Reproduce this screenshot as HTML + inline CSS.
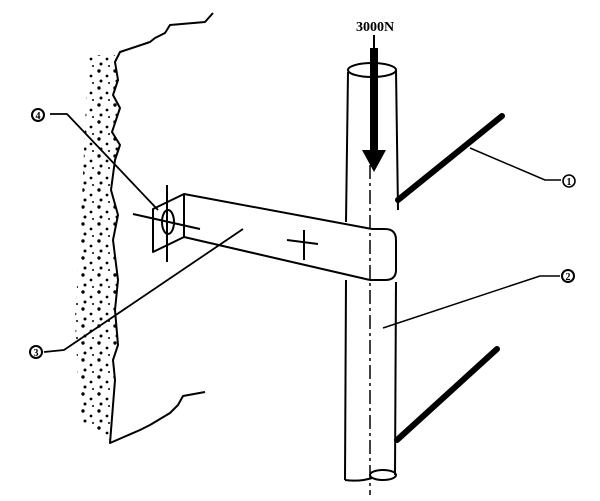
<!DOCTYPE html>
<html><head><style>body{margin:0;background:#fff}svg{display:block}</style></head><body>
<svg width="600" height="501" viewBox="0 0 600 501" xmlns="http://www.w3.org/2000/svg">
<defs>
<pattern id="dots" width="16" height="17" patternUnits="userSpaceOnUse">
<circle cx="3" cy="3" r="1.7" fill="#000"/><circle cx="11" cy="8" r="1.4" fill="#000"/><circle cx="5" cy="13" r="1.5" fill="#000"/><circle cx="13" cy="15" r="1" fill="#000"/>
</pattern>
</defs>
<g fill="none" stroke="#000" stroke-width="2" stroke-linejoin="round">
<polygon points="88,55 115,55 118,80 113,95 120,108 112,132 120,145 115,160 111,190 118,215 113,240 118,280 115,310 118,345 113,360 115,380 110,440 80,420 75,320 82,200" fill="url(#dots)" stroke="none"/>
<polyline points="213,13 205,22 170,25 165,33 155,38 150,42 120,52 115,62 118,80 113,95 120,108 112,132 120,145 115,160 111,190 118,215 113,240 118,280 115,310 118,345 113,360 115,380 110,443 140,430 150,425 170,413 178,405 183,396 205,392"/>
<polygon points="153,209 184,194 184,237 153,252"/>
<line x1="167" y1="185" x2="167" y2="262"/>
<line x1="133" y1="214" x2="200" y2="229"/>
<ellipse cx="168" cy="222" rx="6" ry="12"/>
<line x1="184" y1="194" x2="372" y2="229"/>
<line x1="184" y1="237" x2="370" y2="280"/>
<path d="M372,229 L385,229 Q396,229 396,240 L396,270 Q396,280 385,280 L370,280"/>
<line x1="287" y1="240" x2="318" y2="244"/>
<line x1="304" y1="230" x2="304" y2="260"/>
<ellipse cx="372" cy="70" rx="24" ry="7"/>
<line x1="348" y1="72" x2="346" y2="222"/>
<line x1="396" y1="70" x2="398" y2="210"/>
<line x1="346" y1="280" x2="345" y2="480"/>
<line x1="396" y1="282" x2="395" y2="475"/>
<path d="M345,480 Q360,482 372,478"/>
<ellipse cx="383" cy="475" rx="13" ry="5"/>
<line x1="370" y1="165" x2="370" y2="495" stroke-width="1.5" stroke-dasharray="14,4,3,4"/>
<line x1="398" y1="200" x2="502" y2="116" stroke-width="6" stroke-linecap="round"/>
<line x1="397" y1="440" x2="497" y2="349" stroke-width="6" stroke-linecap="round"/>
<polyline points="50,114 67,114 158,210" stroke-width="1.8"/>
<polyline points="44,352 64,350 243,229" stroke-width="1.8"/>
<polyline points="470,148 545,180 561,180" stroke-width="1.5"/>
<polyline points="383,328 540,276 560,276" stroke-width="1.5"/>
<circle cx="38" cy="115" r="6" stroke-width="2"/>
<circle cx="36" cy="352" r="6" stroke-width="2"/>
<circle cx="569" cy="181" r="6" stroke-width="1.6"/>
<circle cx="568" cy="276" r="6" stroke-width="2"/>
</g>
<line x1="374" y1="35" x2="374" y2="50" stroke="#000" stroke-width="2"/>
<rect x="370" y="48" width="8" height="110" fill="#000"/>
<polygon points="362,150 386,150 374,172" fill="#000"/>
<g font-family="Liberation Serif, serif" font-weight="bold" text-anchor="middle">
<text x="375" y="31" font-size="14">3000N</text>
<text x="38" y="119" font-size="10">4</text>
<text x="36" y="356" font-size="10">3</text>
<text x="569" y="185" font-size="10">1</text>
<text x="568" y="280" font-size="10">2</text>
</g>
</svg>
</body></html>
